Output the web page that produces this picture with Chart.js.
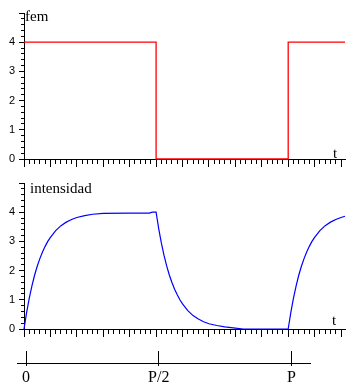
<!DOCTYPE html>
<html>
<head>
<meta charset="utf-8">
<script src="https://cdn.jsdelivr.net/npm/chart.js@4"></script>
<style>
  body { margin: 0; background: #fff; }
  #wrap { position: relative; width: 364px; height: 390px; }
  canvas { position: absolute; left: 0; }
  .lbl { position: absolute; font: 15px "Liberation Serif", serif; line-height: 15px; color: #000; white-space: nowrap; }
</style>
</head>
<body>
<div id="wrap">
  <canvas id="c1" width="364" height="170" style="top:0"></canvas>
  <canvas id="c2" width="364" height="170" style="top:170px"></canvas>
  <canvas id="c3" width="364" height="50" style="top:340px"></canvas>
  <div class="lbl" style="left:25px; top:9px">fem</div>
  <div class="lbl" style="left:333px; top:146px">t</div>
  <div class="lbl" style="left:30px; top:181px">intensidad</div>
  <div class="lbl" style="left:332px; top:313px">t</div>
</div>
<script>
// datos: fem (onda cuadrada) e intensidad (carga / descarga)
const femT = [0, 5, 5, 10, 10, 12.15];
const femV = [4, 4, 0, 0, 4, 4];

const intT = [0, 0.1, 0.2, 0.3, 0.4, 0.5, 0.6, 0.7, 0.8, 0.9, 1.0, 1.2, 1.4, 1.6, 1.8, 2.0, 2.3, 2.6, 3.0, 4.0, 4.75, 4.85, 5.0,
              5.1, 5.2, 5.3, 5.4, 5.5, 5.6, 5.7, 5.8, 5.9, 6.0, 6.2, 6.4, 6.6, 6.8, 7.0, 7.3, 7.6, 8.0, 8.3, 10.0,
              10.1, 10.2, 10.3, 10.4, 10.5, 10.6, 10.7, 10.8, 10.9, 11.0, 11.2, 11.4, 11.6, 11.8, 12.0, 12.15];
const intV = [0, 0.57, 1.06, 1.48, 1.84, 2.15, 2.41, 2.64, 2.83, 3.0, 3.14, 3.37, 3.54, 3.66, 3.75, 3.82, 3.88, 3.93, 3.96, 3.97, 3.97, 4.0, 4.0,
              3.43, 2.94, 2.52, 2.16, 1.85, 1.59, 1.36, 1.17, 1.0, 0.86, 0.63, 0.46, 0.34, 0.25, 0.18, 0.12, 0.07, 0.03, 0, 0,
              0.57, 1.06, 1.48, 1.84, 2.15, 2.41, 2.64, 2.83, 3.0, 3.14, 3.37, 3.54, 3.66, 3.75, 3.82, 3.86];

const yTickLabels = ["0", "1", "2", "3", "4"];
const periodTicks = [0, 5, 10];
const periodLabels = ["0", "P/2", "P"];

const tMax = 12.15;
const yMax = 5;

const isMajor = v => Math.abs(v - Math.round(v)) < 1e-6;

const plotOptions = () => ({
  responsive: false,
  animation: false,
  devicePixelRatio: 1,
  layout: { padding: { top: 13, right: 19, bottom: 0, left: 0 } },
  plugins: { legend: { display: false }, tooltip: { enabled: false } },
  scales: {
    x: {
      type: "linear", min: 0, max: tMax,
      ticks: { stepSize: 0.2, display: false, autoSkip: false, includeBounds: false },
      grid: {
        drawOnChartArea: false, tickLength: 8, tickColor: "#000", tickWidth: 1,
        tickBorderDash: ctx => isMajor(ctx.tick.value) ? [] : [4, 20],
      },
      border: { display: true, color: "#000", width: 1 },
      afterFit: s => { s.height = 11; },
    },
    y: {
      type: "linear", min: 0, max: yMax,
      ticks: {
        stepSize: 0.2, autoSkip: false, includeBounds: false, padding: 4, color: "#000",
        font: { family: "Liberation Sans", size: 11 },
        callback: v => {
          const i = Math.round(v);
          return isMajor(v) && i < yTickLabels.length ? yTickLabels[i] : "";
        },
      },
      grid: {
        drawOnChartArea: false, tickLength: 5, tickColor: "#000", tickWidth: 1,
        tickBorderDash: ctx => isMajor(ctx.tick.value) ? [] : [0, 2, 20, 0],
      },
      border: { display: true, color: "#000", width: 1 },
      afterFit: s => { s.width = 24; },
    },
  },
});

new Chart(document.getElementById("c1"), {
  type: "scatter",
  data: {
    datasets: [{
      data: femT.map((t, i) => ({ x: t, y: femV[i] })),
      showLine: true, borderColor: "#ff0000", borderWidth: 1.3, pointRadius: 0, clip: false,
    }],
  },
  options: plotOptions(),
});

new Chart(document.getElementById("c2"), {
  type: "scatter",
  data: {
    datasets: [{
      data: intT.map((t, i) => ({ x: t, y: intV[i] })),
      showLine: true, borderColor: "#0000ff", borderWidth: 1.2, pointRadius: 0, clip: false,
    }],
  },
  options: plotOptions(),
});

// eje inferior con 0, P/2, P
new Chart(document.getElementById("c3"), {
  type: "scatter",
  data: { datasets: [{ data: [] }] },
  options: {
    responsive: false,
    animation: false,
    devicePixelRatio: 1,
    layout: { padding: { top: 11, right: 54, bottom: 0, left: 17 } },
    plugins: { legend: { display: false }, tooltip: { enabled: false } },
    scales: {
      x: {
        type: "linear", min: -0.34, max: 10.7,
        afterBuildTicks: s => { s.ticks = periodTicks.map(v => ({ value: v })); },
        ticks: {
          autoSkip: false, maxRotation: 0, padding: 2, color: "#000",
          font: { family: "Liberation Serif", size: 16 },
          callback: (v, i) => periodLabels[i],
        },
        grid: { drawOnChartArea: true, color: "#000", tickColor: "#000", tickLength: 3 },
        border: { display: true, color: "#000", width: 1 },
        afterFit: s => { s.height = 27; },
      },
      y: { display: false, min: 0, max: 1 },
    },
  },
});
</script>
</body>
</html>
